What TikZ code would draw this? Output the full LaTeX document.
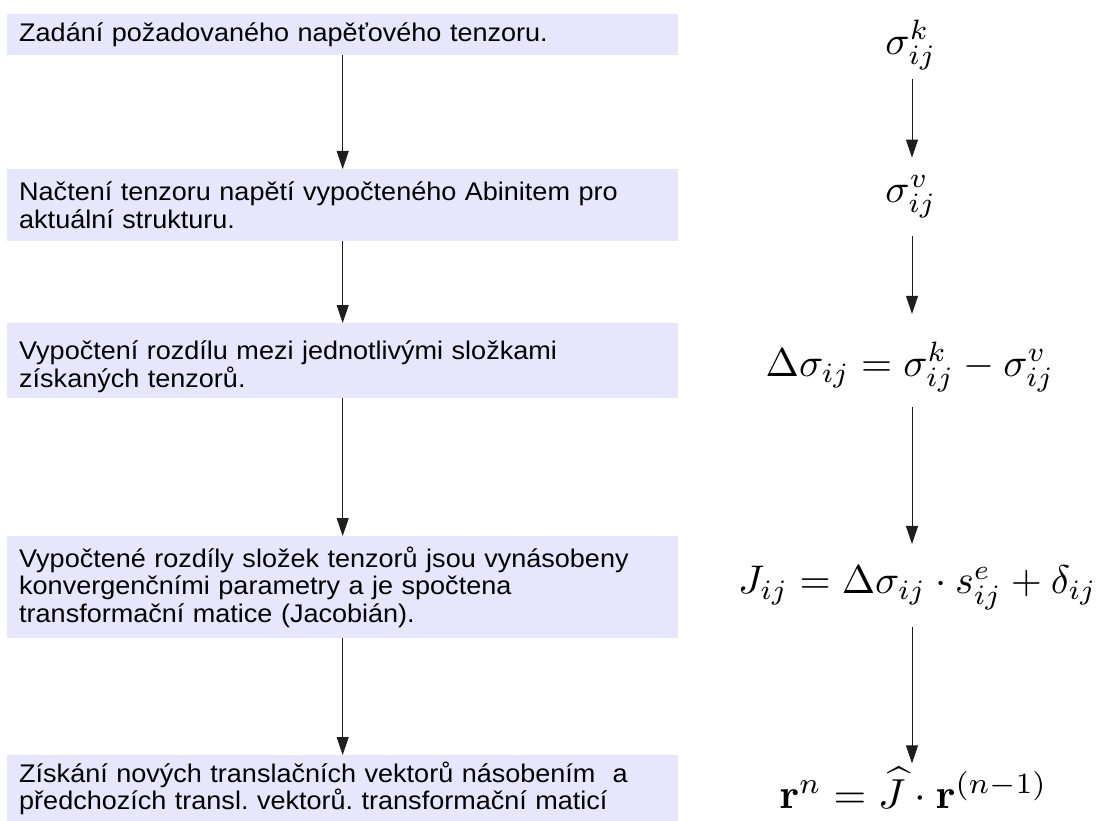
\documentclass[tikz,border=0pt]{standalone}
\usepackage[no-math]{fontspec}
\usepackage{graphicx}
\usetikzlibrary{arrows.meta}
\newfontfamily\boxfont[FakeStretch=1.06]{Liberation Sans}
\definecolor{boxfill}{RGB}{230,230,252}
\definecolor{arrowcol}{RGB}{30,30,30}
\frenchspacing
\begin{document}
\begin{tikzpicture}[x=1pt,y=1pt,
  stepbox/.style={fill=boxfill, text width=647pt, inner xsep=12pt, inner ysep=0pt,
    align=left, anchor=north west, font=\boxfont\fontsize{25.5}{27.5}\selectfont},
  mathnode/.style={inner sep=0pt},
  arr/.style={draw=arrowcol, line width=0.9pt, -{Triangle[length=18pt,width=12pt]}}]
\useasboundingbox (0,0) rectangle (1106,-821);
\fill[white] (0,0) rectangle (1106,-821);
% left column
\node[stepbox, minimum height=41pt] (b1) at (7,-14) {Zadání požadovaného napěťového tenzoru.};
\node[stepbox, minimum height=72pt] (b2) at (7,-169) {Načtení tenzoru napětí vypočteného Abinitem pro\\aktuální strukturu.\par\vspace{13pt}};
\node[stepbox, minimum height=75pt] (b3) at (7,-323) {\rule{0pt}{31pt}Vypočtení rozdílu mezi jednotlivými složkami\\získaných tenzorů.};
\node[stepbox, minimum height=102pt] (b4) at (7,-536) {Vypočtené rozdíly složek tenzorů jsou vynásobeny\\konvergenčními parametry a je spočtena\\transformační matice (Jacobián).\par\vspace{14pt}};
\node[stepbox, minimum height=66pt] (b5) at (7,-755) {Získání nových translačních vektorů násobením\ \ a\\předchozích transl. vektorů. transformační maticí};
\draw[arr] (b1.south) -- (b2.north);
\draw[arr] (b2.south) -- (b3.north);
\draw[arr] (b3.south) -- (b4.north);
\draw[arr] (b4.south) -- (b5.north);
% right column
\coordinate (col) at (912,0);
\node[mathnode] (m1) at (911,-45) {\scalebox{4}{$\sigma^k_{ij}$}};
\node[mathnode] (m2) at (911,-197) {\scalebox{4}{$\sigma^v_{ij}$}};
\node[mathnode] (m3) at (910,-367) {\scalebox{4}{$\Delta\sigma_{ij}=\sigma^k_{ij}-\sigma^v_{ij}$}};
\node[mathnode] (m4) at (917.5,-588) {\scalebox{4}{$J_{ij}=\Delta\sigma_{ij}\cdot s^e_{ij}+\delta_{ij}$}};
\node[mathnode] (m5) at (913.5,-788) {\scalebox{4.2}{$\mathbf{r}^n=\widehat{J}\cdot\mathbf{r}^{(n-1)}$}};
\draw[arr, shorten <=9pt, shorten >=18pt] (m1.south -| col) -- (m2.north -| col);
\draw[arr, shorten <=18pt, shorten >=28pt] (m2.south -| col) -- (m3.north -| col);
\draw[arr, shorten <=15pt, shorten >=22pt] (m3.south -| col) -- (m4.north -| col);
\draw[arr, shorten <=17pt, shorten >=4pt] (m4.south -| col) -- (m5.north -| col);
\end{tikzpicture}
\end{document}
